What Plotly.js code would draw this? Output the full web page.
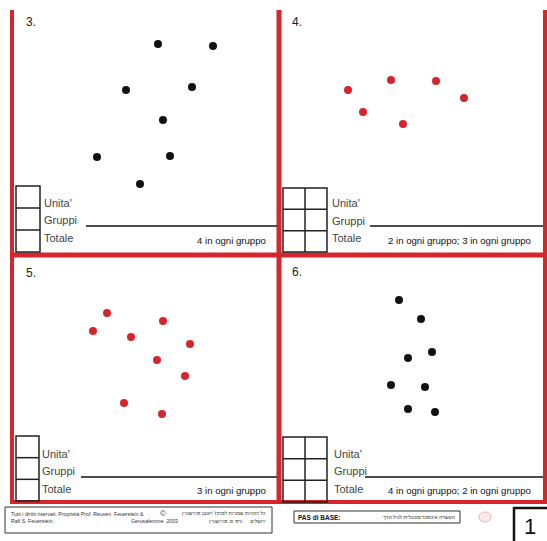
<!DOCTYPE html>
<html>
<head>
<meta charset="utf-8">
<script src="https://cdn.plot.ly/plotly-3.0.1.min.js"></script>
<style>html,body{margin:0;padding:0;background:#fff;}#chart{width:547px;height:541px;}</style>
</head>
<body>
<div id="chart"></div>
<script>
// ---- data: dot positions per exercise (page units) ----
const p3x = [158, 213, 126, 192, 163, 97, 170, 140];
const p3y = [44, 46, 90, 87, 120, 157, 156, 184];
const p4x = [348, 391, 436, 464, 363, 403];
const p4y = [90, 80, 81, 98, 112, 124];
const p5x = [107, 93, 131, 163, 190, 157, 185, 124, 162];
const p5y = [313, 331, 337, 321, 344, 360, 376, 403, 414];
const p6x = [399, 421, 432, 408, 391, 425, 408, 435];
const p6y = [300, 319, 352, 358, 385, 387, 409, 412];

const panelNumbers = ["3.", "4.", "5.", "6."];
const rowLabels = ["Unita'", "Gruppi", "Totale"];
const answers = ["4 in ogni gruppo", "2 in ogni gruppo; 3 in ogni gruppo", "3 in ogni gruppo", "4 in ogni gruppo; 2 in ogni gruppo"];

const RED = '#d5252d';
const BLACK = '#111111';

const traces = [
  {x: p3x, y: p3y, color: BLACK},
  {x: p4x, y: p4y, color: RED},
  {x: p5x, y: p5y, color: RED},
  {x: p6x, y: p6y, color: BLACK}
].map(d => ({
  type: 'scatter', mode: 'markers', x: d.x, y: d.y,
  marker: {size: 8, color: d.color, line: {width: 0}},
  hoverinfo: 'skip', showlegend: false
}));

const shapes = [];
function line(x0, y0, x1, y1, color, width) {
  shapes.push({type: 'line', xref: 'x', yref: 'y', x0, y0, x1, y1, line: {color, width}});
}
function rect(x0, y0, x1, y1, color, width, fill) {
  shapes.push({type: 'rect', xref: 'x', yref: 'y', x0, y0, x1, y1, line: {color, width}, fillcolor: fill || 'rgba(0,0,0,0)'});
}

// red frame
line(12, 10, 12, 503, RED, 4);
line(279, 10, 279, 503, RED, 5);
line(545, 10, 545, 503, RED, 4);
line(10, 255, 547, 255, RED, 5);
line(10, 502, 547, 502, RED, 4);

// answer grids
const grids = [
  {x0: 16, x1: 40, cols: 1, y0: 186, y1: 252},
  {x0: 283, x1: 327, cols: 2, y0: 188, y1: 252},
  {x0: 16, x1: 39, cols: 1, y0: 436, y1: 501},
  {x0: 283, x1: 327, cols: 2, y0: 437, y1: 502}
];
grids.forEach(g => {
  rect(g.x0, g.y0, g.x1, g.y1, '#222', 1.5);
  const h = (g.y1 - g.y0) / 3;
  line(g.x0, g.y0 + h, g.x1, g.y0 + h, '#222', 1.5);
  line(g.x0, g.y0 + 2 * h, g.x1, g.y0 + 2 * h, '#222', 1.5);
  if (g.cols === 2) { const m = (g.x0 + g.x1) / 2; line(m, g.y0, m, g.y1, '#222', 1.5); }
});

// answer underlines
line(86, 226, 277, 226, '#111', 1.5);
line(370, 226, 543, 226, '#111', 1.5);
line(81, 477, 277, 477, '#111', 1.5);
line(365, 477, 543, 477, '#111', 1.5);

// footer boxes
rect(5, 507, 272, 533, '#333', 1);
rect(294, 511, 460, 523, '#333', 1);
rect(514, 508, 549, 543, '#111', 2.5);
shapes.push({type: 'circle', xref: 'x', yref: 'y', x0: 479, y0: 512, x1: 491, y1: 522, line: {color: '#f2b0b0', width: 1}, fillcolor: '#fdeaea'});

const annotations = [];
function text(t, x, y, opts) {
  annotations.push(Object.assign({
    text: t, x, y, xref: 'x', yref: 'y', showarrow: false,
    xanchor: 'left', yanchor: 'middle',
    font: {family: 'Liberation Sans, Arial, sans-serif', size: 11, color: '#333'}
  }, opts || {}));
}

// panel numbers
const numPos = [[24, 22], [290, 22], [24, 273], [290, 272]];
panelNumbers.forEach((n, i) => text(n, numPos[i][0], numPos[i][1], {font: {family: 'Liberation Sans, Arial, sans-serif', size: 12, color: '#222'}}));

// row labels
const labPos = [[42, [203, 220, 238]], [330, [203, 221, 238]], [40, [454, 471, 489]], [332, [454, 471, 489]]];
labPos.forEach(p => rowLabels.forEach((l, j) => text(l, p[0], p[1][j], {font: {family: 'Liberation Sans, Arial, sans-serif', size: 11, color: '#444'}})));

// answer texts
const ansPos = [[268, 240], [533, 240], [268, 490], [533, 490]];
answers.forEach((a, i) => text(a, ansPos[i][0], ansPos[i][1], {xanchor: 'right', font: {family: 'Liberation Sans, Arial, sans-serif', size: 9.6, color: '#111'}}));

// footer texts
const small = {family: 'Liberation Sans, Arial, sans-serif', size: 5.2, color: '#333'};
const heb = {family: 'Liberation Sans, Arial, sans-serif', size: 4.8, color: '#333'};
text('Tutti i diritti riservati. Proprietà Prof. Reuven  Feuerstein &', 9, 514, {font: small});
text('Rafi S. Feuerstein', 9, 521, {font: small});
text('Gerusalemme  2003', 180, 521, {xanchor: 'right', font: small});
text('©', 158, 513, {font: {family: 'Liberation Sans, Arial', size: 8, color: '#333'}});
text('כל הזכויות שמורות למרכז\' ראובן פוירשטיין', 268, 513, {xanchor: 'right', font: heb});
text('ירושלים      ורפי ס. פוירשטיין', 268, 521, {xanchor: 'right', font: heb});
text('<b>PAS di BASE:</b>', 296, 517, {font: {family: 'Liberation Sans, Arial', size: 6.5, color: '#111'}});
text('העשרה אינסטרומנטלית לגיל הרך', 457, 517, {xanchor: 'right', font: small});
text('1', 530, 526, {xanchor: 'center', font: {family: 'Liberation Sans, Arial', size: 22, color: '#111'}});

const layout = {
  width: 547, height: 541,
  margin: {l: 0, r: 0, t: 0, b: 0},
  paper_bgcolor: '#ffffff', plot_bgcolor: '#ffffff',
  xaxis: {range: [0, 547], visible: false, fixedrange: true},
  yaxis: {range: [541, 0], visible: false, fixedrange: true},
  shapes, annotations, showlegend: false
};

Plotly.newPlot('chart', traces, layout, {staticPlot: true, displayModeBar: false});
</script>
</body>
</html>
